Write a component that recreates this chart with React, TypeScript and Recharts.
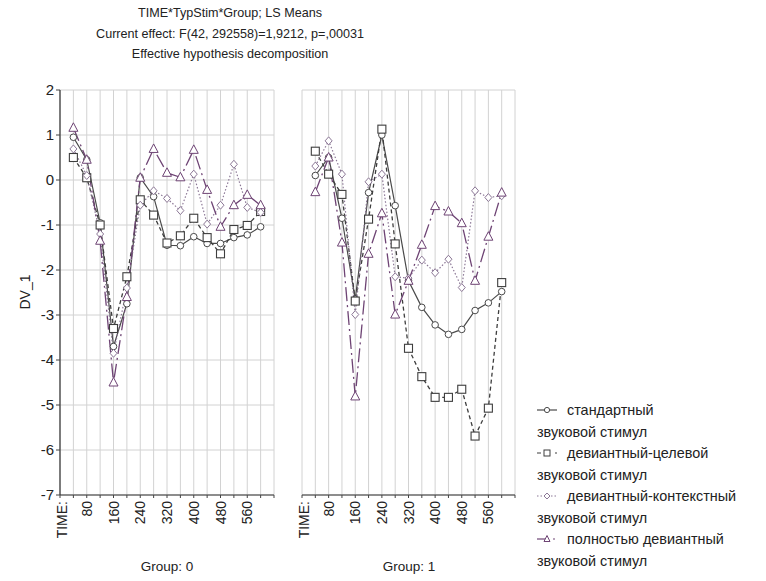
import React from 'react';
import { LineChart, Line, XAxis, YAxis, CartesianGrid } from 'recharts';

const times = [40, 80, 120, 160, 200, 240, 280, 320, 360, 400, 440, 480, 520, 560, 600];
const xTicks = [0, 40, 80, 120, 160, 200, 240, 280, 320, 360, 400, 440, 480, 520, 560, 600, 640];
const yTicks = [-7, -6, -5, -4, -3, -2, -1, 0, 1, 2];

const g0Standard = [0.95, 0.45, -0.95, -3.7, -2.75, 0.05, -0.37, -1.45, -1.46, -1.26, -1.41, -1.41, -1.28, -1.22, -1.04];
const g0Target = [0.5, 0.05, -1.0, -3.3, -2.15, -0.44, -0.78, -1.4, -1.24, -0.85, -1.28, -1.64, -1.1, -1.01, -0.7];
const g0Context = [0.69, 0.1, -1.2, -3.85, -2.4, -0.56, -0.24, -0.41, -0.68, 0.13, -0.98, -0.56, 0.35, -0.61, -0.72];
const g0Deviant = [1.16, 0.45, -1.35, -4.5, -2.6, 0.05, 0.69, 0.16, 0.06, 0.67, -0.22, -1.04, -0.56, -0.33, -0.56];

const g1Standard = [0.1, 0.5, -0.85, -2.65, -0.28, 1.0, -0.57, -2.24, -2.83, -3.22, -3.43, -3.32, -2.9, -2.73, -2.48];
const g1Target = [0.64, 0.13, -0.32, -2.69, -0.87, 1.13, -1.42, -3.74, -4.37, -4.83, -4.83, -4.65, -5.69, -5.07, -2.28];
const g1Context = [0.31, 0.87, 0.13, -2.99, -0.04, 0.13, -2.15, -2.18, -1.78, -2.06, -1.76, -2.39, -0.24, -0.39, -0.35];
const g1Deviant = [-0.27, 0.5, -1.39, -4.81, -1.64, -0.74, -2.99, -2.24, -1.44, -0.58, -0.7, -0.96, -2.24, -1.26, -0.28];

const titleLines = [
  'TIME*TypStim*Group; LS Means',
  'Current effect: F(42, 292558)=1,9212, p=,00031',
  'Effective hypothesis decomposition',
];
const groupLabels = ['Group: 0', 'Group: 1'];
const legendNames = [
  'стандартный',
  'девиантный-целевой',
  'девиантный-контекстный',
  'полностью девиантный',
];
const legendSecond = 'звуковой стимул';

const FONT = '"Liberation Sans", Arial, sans-serif';
const C_STD = '#4a4a4a';
const C_TGT = '#3e3e3e';
const C_CTX = '#8c7896';
const C_DEV = '#6e4474';

const build = (a: number[], b: number[], c: number[], d: number[]) =>
  times.map((t, i) => ({ t, std: a[i], tgt: b[i], ctx: c[i], dev: d[i] }));

const data0 = build(g0Standard, g0Target, g0Context, g0Deviant);
const data1 = build(g1Standard, g1Target, g1Context, g1Deviant);

const CircleDot = (p: any) => (
  <circle key={`c${p.index}`} cx={p.cx} cy={p.cy} r={3.3} fill="#fff" stroke={C_STD} strokeWidth={1} />
);
const SquareDot = (p: any) => (
  <rect key={`s${p.index}`} x={p.cx - 4} y={p.cy - 4} width={8} height={8} fill="#fff" stroke={C_TGT} strokeWidth={1.1} />
);
const DiamondDot = (p: any) => (
  <polygon
    key={`d${p.index}`}
    points={`${p.cx},${p.cy - 4} ${p.cx + 3.5},${p.cy} ${p.cx},${p.cy + 4} ${p.cx - 3.5},${p.cy}`}
    fill="#fff"
    stroke={C_CTX}
    strokeWidth={1}
  />
);
const TriDot = (p: any) => (
  <polygon
    key={`t${p.index}`}
    points={`${p.cx},${p.cy - 5} ${p.cx + 4.5},${p.cy + 3.5} ${p.cx - 4.5},${p.cy + 3.5}`}
    fill="#fff"
    stroke={C_DEV}
    strokeWidth={1}
  />
);

const XTick = (props: any) => {
  const { x, y, payload } = props;
  const v = payload.value;
  let label = '';
  if (v === 0) label = 'TIME:';
  else if (v % 80 === 0 && v < 600) label = String(v);
  if (!label) return <g />;
  const yy = y + 1;
  const xx = v === 0 ? x + 2 : x;
  return (
    <text
      x={xx}
      y={yy}
      transform={`rotate(-90 ${xx} ${yy})`}
      textAnchor="end"
      dominantBaseline="central"
      fontSize={14}
      fontFamily={FONT}
      fill="#222"
    >
      {label}
    </text>
  );
};

const Panel = ({ data, showY }: { data: any[]; showY: boolean }) => (
  <LineChart
    width={showY ? 290 : 240}
    height={581}
    data={data}
    margin={{ top: 90, right: showY ? 16 : 15, bottom: 36, left: showY ? 10 : 12 }}
  >
    <CartesianGrid stroke="#d2d2d2" strokeWidth={1} />
    <XAxis
      dataKey="t"
      type="number"
      domain={[0, 640]}
      ticks={xTicks}
      interval={0}
      height={50}
      tick={<XTick />}
      tickLine={{ stroke: '#444' }}
      tickSize={3}
      axisLine={{ stroke: '#333', strokeWidth: 1.2 }}
      allowDataOverflow
    />
    <XAxis xAxisId="top" orientation="top" dataKey="t" type="number" domain={[0, 640]} ticks={xTicks} height={0} tick={false} tickLine={false} axisLine={{ stroke: '#333', strokeWidth: 1.2 }} />
    <YAxis
      type="number"
      domain={[-7, 2]}
      ticks={yTicks}
      interval={0}
      width={showY ? 50 : 0}
      tick={showY ? { fontSize: 15, fontFamily: FONT, fill: '#222' } : false}
      tickLine={{ stroke: '#444' }}
      tickSize={4}
      axisLine={{ stroke: '#333', strokeWidth: 1.2 }}
    />
    <YAxis yAxisId="right" orientation="right" type="number" domain={[-7, 2]} ticks={yTicks} width={0} tick={false} tickLine={false} axisLine={{ stroke: '#333', strokeWidth: 1.2 }} />
    <Line dataKey="std" stroke={C_STD} strokeWidth={1.2} dot={CircleDot} isAnimationActive={false} />
    <Line dataKey="tgt" stroke={C_TGT} strokeWidth={1.3} strokeDasharray="4 3" dot={SquareDot} isAnimationActive={false} />
    <Line dataKey="ctx" stroke={C_CTX} strokeWidth={1.2} strokeDasharray="1.5 2" dot={DiamondDot} isAnimationActive={false} />
    <Line dataKey="dev" stroke={C_DEV} strokeWidth={1.3} strokeDasharray="14 4 2 4" dot={TriDot} isAnimationActive={false} />
  </LineChart>
);

const LegendSym = ({ kind, x, y }: { kind: number; x: number; y: number }) => {
  const cx = x + 10;
  if (kind === 0)
    return (
      <g>
        <line x1={x} y1={y} x2={x + 20} y2={y} stroke={C_STD} strokeWidth={1.2} />
        <circle cx={cx} cy={y} r={2.6} fill="#fff" stroke={C_STD} />
      </g>
    );
  if (kind === 1)
    return (
      <g>
        <line x1={x} y1={y} x2={x + 20} y2={y} stroke={C_TGT} strokeWidth={1.2} strokeDasharray="4 5" />
        <rect x={cx - 3} y={y - 3} width={6} height={6} fill="#fff" stroke={C_TGT} />
      </g>
    );
  if (kind === 2)
    return (
      <g>
        <line x1={x} y1={y} x2={x + 20} y2={y} stroke={C_CTX} strokeWidth={1.2} strokeDasharray="1.5 2" />
        <polygon points={`${cx},${y - 3} ${cx + 3},${y} ${cx},${y + 3} ${cx - 3},${y}`} fill="#fff" stroke={C_CTX} />
      </g>
    );
  return (
    <g>
      <line x1={x} y1={y} x2={x + 8} y2={y} stroke={C_DEV} strokeWidth={1.2} />
      <line x1={x + 16} y1={y} x2={x + 18} y2={y} stroke={C_DEV} strokeWidth={1.2} />
      <polygon points={`${cx},${y - 3.5} ${cx + 3},${y + 2.5} ${cx - 3},${y + 2.5}`} fill="#fff" stroke={C_DEV} />
    </g>
  );
};

export default function App() {
  return (
    <div style={{ position: 'relative', width: 766, height: 581, background: '#fff', fontFamily: FONT }}>
      <style>{`body{margin:0;background:#fff}`}</style>
      <div style={{ position: 'absolute', left: 0, top: 0 }}>
        <Panel data={data0} showY={true} />
      </div>
      <div style={{ position: 'absolute', left: 290, top: 0 }}>
        <Panel data={data1} showY={false} />
      </div>
      <svg width={766} height={581} style={{ position: 'absolute', left: 0, top: 0, pointerEvents: 'none' }}>
        {titleLines.map((s, i) => (
          <text key={i} x={230} y={17 + i * 20.5} textAnchor="middle" fontSize={12.6} fontFamily={FONT} fill="#222">
            {s}
          </text>
        ))}
        <text x={25} y={292} transform="rotate(-90 25 292)" textAnchor="middle" dominantBaseline="central" fontSize={14} fontFamily={FONT} fill="#222">
          DV_1
        </text>
        <text x={167} y={571} textAnchor="middle" fontSize={13.5} fontFamily={FONT} fill="#222">
          {groupLabels[0]}
        </text>
        <text x={409} y={571} textAnchor="middle" fontSize={13.5} fontFamily={FONT} fill="#222">
          {groupLabels[1]}
        </text>
        {legendNames.map((n, i) => {
          const y1 = 410 + i * 43;
          return (
            <g key={n}>
              <LegendSym kind={i} x={537} y={y1} />
              <text x={567} y={y1 + 5} fontSize={14.4} fontFamily={FONT} fill="#222">
                {n}
              </text>
              <text x={537} y={y1 + 26.5} fontSize={14.4} fontFamily={FONT} fill="#222">
                {legendSecond}
              </text>
            </g>
          );
        })}
      </svg>
    </div>
  );
}
